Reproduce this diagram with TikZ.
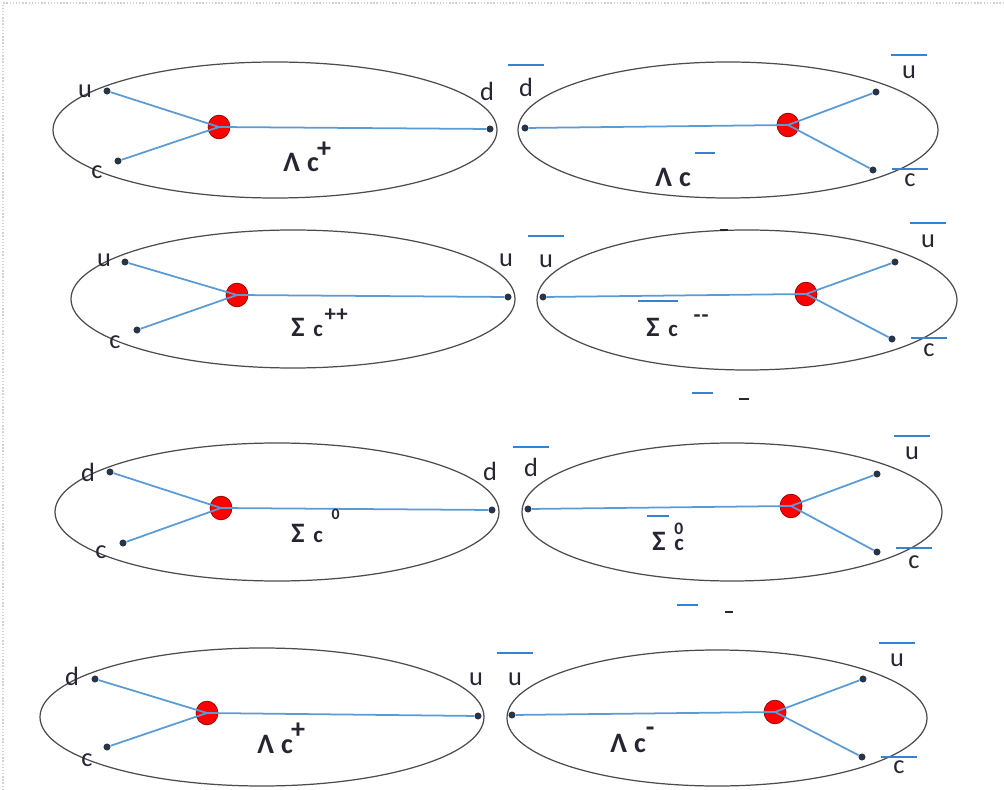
\documentclass[tikz,border=0pt]{standalone}
\usepackage{fontspec}
\setmainfont{Carlito}
\usetikzlibrary{calc,shapes.geometric}

\definecolor{bondc}{RGB}{91,155,213}
\definecolor{barc}{RGB}{52,132,214}
\definecolor{dotc}{RGB}{40,52,72}
\definecolor{shellc}{RGB}{75,75,80}
\definecolor{txtc}{RGB}{40,36,50}

\tikzset{
  frame/.style={gray!35,densely dotted,line width=0.8pt},
  shell/.style={draw=shellc,line width=0.7pt},
  quark/.style={circle,fill=dotc,inner sep=0pt,minimum size=4pt},
  core/.style={ellipse,fill=red,draw=red!55!black,line width=0.4pt,inner sep=0pt,
    minimum width=12.5pt,minimum height=13.5pt},
  bond/.style={bondc,line width=1pt},
  qlbl/.style={text=txtc,inner sep=0pt,font=\fontsize{15}{17}\selectfont},
  hlbl/.style={text=txtc,inner sep=0pt,anchor=base west,font=\bfseries\fontsize{16}{18}\selectfont},
  antibar/.style={barc,line width=1.1pt},
  smudge/.style={txtc,line width=1.3pt},
}
% bar over an anti-quark label
\newcommand{\qbar}[2][-17]{\draw[antibar] ($(#2.center)+(-18,#1)$) -- ++(36,0);}
\newcommand{\smallc}{\fontsize{13}{14}\selectfont c}

\begin{document}
\begin{tikzpicture}[x=0.02cm,y=-0.02cm]
\useasboundingbox (0,0) rectangle (1004,790);
\draw[frame] (1004,3) -- (3,3) -- (3,790);

% Lambda_c^+ : u c d
\draw[shell] (275,130) ellipse (222 and 68);
\node[core] (lam) at (219,127) {};
\node[quark] (lamu) at (107,91) {};
\node[quark] (lamc) at (118,161) {};
\node[quark] (lamd) at (490,129) {};
\draw[bond] (lam.center) -- (lamu);
\draw[bond] (lam.center) -- (lamc);
\draw[bond] (lam.center) -- (lamd);
\node[qlbl] (tlamu) at (85,91) {u};
\node[qlbl] (tlamc) at (97,172) {c};
\node[qlbl] (tlamd) at (487,91) {d};
\node[hlbl] (tlam) at (283,172) {Λ\hspace{4pt}c\kern-1pt\raisebox{8pt}{+}};

% anti Lambda_c
\draw[shell] (728,130) ellipse (210 and 68);
\node[core] (alam) at (788,125) {};
\node[quark] (alamd) at (525,128) {};
\node[quark] (alamu) at (876,92) {};
\node[quark] (alamc) at (873,170) {};
\draw[bond] (alam.center) -- (alamd);
\draw[bond] (alam.center) -- (alamu);
\draw[bond] (alam.center) -- (alamc);
\node[qlbl] (talamd) at (526,87) {d};
\node[qlbl] (talamu) at (909,72) {u};
\node[qlbl] (talamc) at (910,180) {c};
\qbar[-22]{talamd}
\qbar{talamu}
\qbar[-11]{talamc}
\node[hlbl] (talam) at (655,187) {Λ\hspace{4pt}c};
\draw[antibar] ($(talam.base west)+(40,-34)$) -- ++(20,0);

% Sigma_c^{++} : u c u
\draw[shell] (293,299) ellipse (222 and 69);
\node[core] (sig) at (237,295) {};
\node[quark] (sigu) at (125,262) {};
\node[quark] (sigc) at (137,330) {};
\node[quark] (sigv) at (508,297) {};
\draw[bond] (sig.center) -- (sigu);
\draw[bond] (sig.center) -- (sigc);
\draw[bond] (sig.center) -- (sigv);
\node[qlbl] (tsigu) at (104,260) {u};
\node[qlbl] (tsigc) at (115,342) {c};
\node[qlbl] (tsigv) at (506,260) {u};
\node[hlbl] (tsig) at (291,337) {Σ\hspace{5pt}\smallc\hspace{1pt}\raisebox{9pt}{++}};

% anti Sigma_c
\draw[shell] (747,300) ellipse (210 and 70);
\node[core] (asig) at (806,294) {};
\node[quark] (asigv) at (543,297) {};
\node[quark] (asigu) at (895,262) {};
\node[quark] (asigc) at (892,339) {};
\draw[bond] (asig.center) -- (asigv);
\draw[bond] (asig.center) -- (asigu);
\draw[bond] (asig.center) -- (asigc);
\node[qlbl] (tasigv) at (546,261) {u};
\node[qlbl] (tasigu) at (928,241) {u};
\node[qlbl] (tasigc) at (929,350) {c};
\qbar[-25]{tasigv}
\qbar[-18]{tasigu}
\qbar[-12]{tasigc}
\node[hlbl] (tasig) at (646,337) {Σ\hspace{5pt}\smallc\hspace{9pt}\raisebox{8.5pt}{-\kern0.5pt-}};
\draw[antibar] ($(tasig.base west)+(-8,-36)$) -- ++(40,0);
\draw[smudge] (720,230) -- (728,230);
\draw[antibar] (692,393) -- (713,393);
\draw[smudge] (739,399) -- (749,399);

% Sigma_c^0 : d c d
\draw[shell] (277,512) ellipse (222 and 69);
\node[core] (sz) at (221,508) {};
\node[quark] (szd) at (110,472) {};
\node[quark] (szc) at (123,543) {};
\node[quark] (sze) at (492,510) {};
\draw[bond] (sz.center) -- (szd);
\draw[bond] (sz.center) -- (szc);
\draw[bond] (sz.center) -- (sze);
\node[qlbl] (tszd) at (88,472) {d};
\node[qlbl] (tszc) at (101,552) {c};
\node[qlbl] (tsze) at (490,471) {d};
\node[hlbl] (tsz) at (291,542) {Σ\hspace{5pt}\smallc\hspace{5pt}\raisebox{13pt}{\fontsize{9}{10}\selectfont 0}};

% anti Sigma_c^0
\draw[shell] (732,512) ellipse (210 and 69);
\node[core] (asz) at (791,506) {};
\node[quark] (aszd) at (528,509) {};
\node[quark] (aszu) at (877,474) {};
\node[quark] (aszc) at (877,552) {};
\draw[bond] (asz.center) -- (aszd);
\draw[bond] (asz.center) -- (aszu);
\draw[bond] (asz.center) -- (aszc);
\node[qlbl] (taszd) at (531,467) {d};
\node[qlbl] (taszu) at (912,453) {u};
\node[qlbl] (taszc) at (914,562) {c};
\qbar[-20]{taszd}
\qbar{taszu}
\qbar[-14]{taszc}
\node[hlbl] (tasz) at (652,550) {Σ\hspace{5pt}\rlap{\raisebox{9pt}{\fontsize{10}{11}\selectfont 0}}\smallc};
\draw[antibar] ($(tasz.base west)+(-5,-34)$) -- ++(22,0);
\draw[antibar] (677,605) -- (698,605);
\draw[smudge] (725,612) -- (733,612);

% Lambda_c^+ : d c u
\draw[shell] (262,717) ellipse (222 and 69);
\node[core] (lamt) at (207,713) {};
\node[quark] (lamtd) at (95,679) {};
\node[quark] (lamtc) at (107,747) {};
\node[quark] (lamtu) at (478,716) {};
\draw[bond] (lamt.center) -- (lamtd);
\draw[bond] (lamt.center) -- (lamtc);
\draw[bond] (lamt.center) -- (lamtu);
\node[qlbl] (tlamtd) at (72,676) {d};
\node[qlbl] (tlamtc) at (87,760) {c};
\node[qlbl] (tlamtu) at (476,679) {u};
\node[hlbl] (tlamt) at (257,753) {Λ\hspace{4pt}c\kern-1pt\raisebox{8pt}{+}};

% Lambda_c^-
\draw[shell] (717,718) ellipse (210 and 68);
\node[core] (alamt) at (775,712) {};
\node[quark] (alamtv) at (512,715) {};
\node[quark] (alamtu) at (863,679) {};
\node[quark] (alamtc) at (862,757) {};
\draw[bond] (alamt.center) -- (alamtv);
\draw[bond] (alamt.center) -- (alamtu);
\draw[bond] (alamt.center) -- (alamtc);
\node[qlbl] (talamtv) at (515,679) {u};
\node[qlbl] (talamtu) at (897,660) {u};
\node[qlbl] (talamtc) at (899,767) {c};
\qbar[-26]{talamtv}
\qbar{talamtu}
\qbar[-10]{talamtc}
\node[hlbl] (talamt) at (610,752) {Λ\hspace{4pt}c\raisebox{9pt}{-}};
\end{tikzpicture}
\end{document}
